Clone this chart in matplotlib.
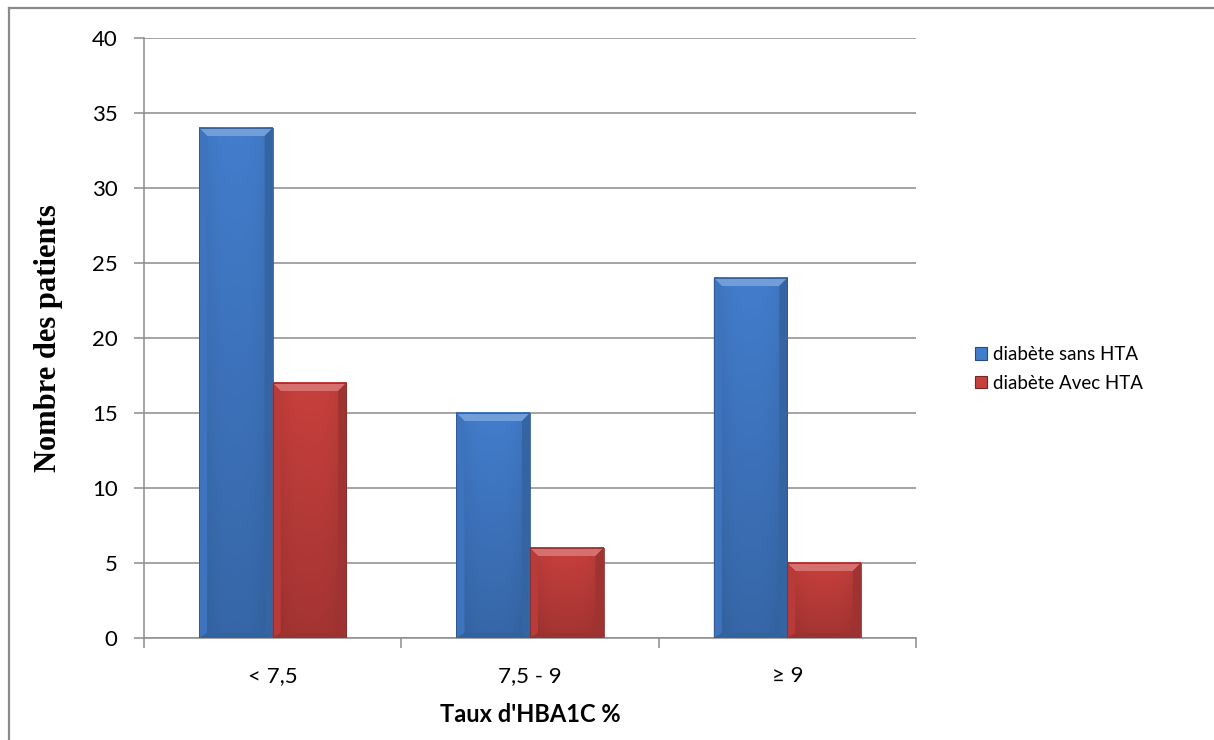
import numpy as np
import matplotlib
matplotlib.use("Agg")
import matplotlib.pyplot as plt
from matplotlib.patches import Polygon, Patch
from matplotlib.lines import Line2D
from matplotlib.transforms import blended_transform_factory

categories = ["< 7,5", "7,5 - 9", "\u2265 9"]
sans_hta = [34, 15, 24]
avec_hta = [17, 6, 5]
series_names = ["diab\u00e8te sans HTA", "diab\u00e8te Avec HTA"]
y_ticks = [0, 5, 10, 15, 20, 25, 30, 35, 40]

W, H, DPI = 1214, 740, 100
fig = plt.figure(figsize=(W / DPI, H / DPI), dpi=DPI)
fig.patch.set_facecolor("white")

AX_L, AX_R, AX_T, AX_B = 144, 916, 38, 638
ax = fig.add_axes([AX_L / W, 1 - AX_B / H, (AX_R - AX_L) / W, (AX_B - AX_T) / H])
ax.set_xlim(-0.5, 2.5)
ax.set_ylim(0, 40)

FONT = "Lato"
TS = 16
grid_col = "#8c8c8c"
ax.set_yticks(y_ticks)
ax.yaxis.grid(True, color=grid_col, linewidth=1.1, zorder=0)
ax.set_axisbelow(True)
for s in ("top", "right"):
    ax.spines[s].set_visible(False)
for s in ("left", "bottom"):
    ax.spines[s].set_color(grid_col)
    ax.spines[s].set_linewidth(1.1)

ax.tick_params(axis="y", length=7, width=1.1, color=grid_col, pad=12, labelsize=TS)
ax.set_yticklabels([str(v) for v in y_ticks], fontfamily=FONT)
# category boundaries carry the x ticks, labels sit at category centres
ax.set_xticks([-0.5, 0.5, 1.5, 2.5])
ax.set_xticklabels([])
ax.tick_params(axis="x", length=7, width=1.1, color=grid_col)
ax_w_px = AX_R - AX_L
ax_h_px = AX_B - AX_T
cat_tr = blended_transform_factory(ax.transData, ax.transAxes)
for i, c in enumerate(categories):
    ax.text(i, -(682 - AX_B) / ax_h_px, c, transform=cat_tr, ha="center", va="baseline",
            fontsize=TS, fontfamily=FONT)

# bar geometry: Excel-style gap width of 150 %
n_series = 2
bar_w = 1.0 / (n_series + 1.5)

# bevel size in pixels converted to data units
bev_px = 8
bx = bev_px / ax_w_px * 3.0
by = bev_px / ax_h_px * 40.0


def shade(rgb, f):
    rgb = np.array(rgb, dtype=float)
    if f >= 1:
        return tuple(rgb + (1 - rgb) * (f - 1))
    return tuple(rgb * f)


def bevel_bar(x0, h, rgb):
    x1 = x0 + bar_w
    # vertical gradient body
    grad = np.linspace(1.0, 0.82, 64)[:, None]
    horiz = 1.0 - 0.10 * np.abs(np.linspace(-1, 1, 32))[None, :] ** 3
    img = np.clip(np.array(rgb)[None, None, :] * (grad * horiz)[:, :, None], 0, 1)
    ax.imshow(img, extent=(x0, x1, 0, h), aspect="auto", zorder=2, interpolation="bilinear")
    # top bevel (lighter)
    ax.add_patch(Polygon([(x0, h), (x1, h), (x1 - bx, h - by), (x0 + bx, h - by)],
                         closed=True, facecolor=shade(rgb, 1.25), edgecolor="none", zorder=3))
    # side bevels
    ax.add_patch(Polygon([(x0, h), (x0 + bx, h - by), (x0 + bx, by * 0.6), (x0, 0)],
                         closed=True, facecolor=shade(rgb, 0.93), edgecolor="none", zorder=3))
    ax.add_patch(Polygon([(x1, h), (x1 - bx, h - by), (x1 - bx, by * 0.6), (x1, 0)],
                         closed=True, facecolor=shade(rgb, 0.80), edgecolor="none", zorder=3))
    # bottom bevel (darker)
    ax.add_patch(Polygon([(x0, 0), (x1, 0), (x1 - bx, by * 0.6), (x0 + bx, by * 0.6)],
                         closed=True, facecolor=shade(rgb, 0.78), edgecolor="none", zorder=3))
    ax.add_patch(Polygon([(x0, 0), (x0, h), (x1, h), (x1, 0)], closed=True,
                         facecolor="none", edgecolor=shade(rgb, 0.7), linewidth=0.6, zorder=4))


blue = (0.26, 0.49, 0.80)
red = (0.78, 0.25, 0.24)
for i in range(len(categories)):
    bevel_bar(i - bar_w, sans_hta[i], blue)
    bevel_bar(i, avec_hta[i], red)

ax.set_xlim(-0.5, 2.5)
ax.set_ylim(0, 40)

ax.set_ylabel("Nombre des patients", fontfamily="Liberation Serif", fontweight="bold",
              fontsize=22)
ax.yaxis.set_label_coords(-(AX_L - 63) / ax_w_px, 0.5)
fig.text(530 / W, 1 - 722 / H, "Taux d'HBA1C %", ha="center", va="baseline",
         fontfamily=FONT, fontweight="bold", fontsize=17)

handles = [Patch(facecolor=blue, edgecolor=shade(blue, 0.6), linewidth=0.8),
           Patch(facecolor=red, edgecolor=shade(red, 0.6), linewidth=0.8)]
leg = fig.legend(handles, series_names, loc="center left", bbox_to_anchor=(975 / W, 1 - 369 / H),
                 frameon=False, prop=dict(family=FONT, size=13.5), handlelength=0.66,
                 handleheight=0.66, handletextpad=0.3, labelspacing=0.6, borderpad=0,
                 borderaxespad=0)

# outer chart-area frame (left and top edges fall inside the image)
fig.add_artist(Line2D([8.5 / W, 8.5 / W], [0, 1 - 7.5 / H], color="#8a8a8a", linewidth=1.6,
                      transform=fig.transFigure))
fig.add_artist(Line2D([8.5 / W, 1], [1 - 7.5 / H, 1 - 7.5 / H], color="#8a8a8a", linewidth=1.6,
                      transform=fig.transFigure))

fig.savefig("out.png", dpi=DPI, facecolor="white")
